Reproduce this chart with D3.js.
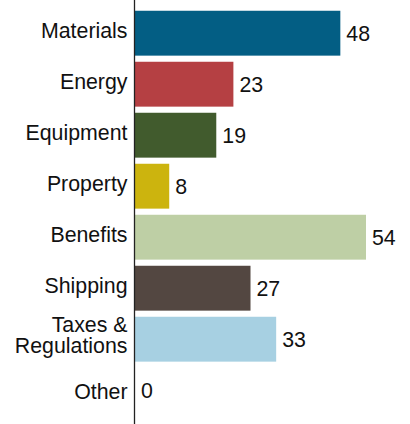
<!DOCTYPE html>
<html><head><meta charset="utf-8">
<script src="https://cdn.jsdelivr.net/npm/d3@7"></script>
<style>body{margin:0;background:#fff}svg{display:block}</style>
</head><body><svg id="c" width="410" height="424"></svg>
<script>
const categories = ["Materials","Energy","Equipment","Property","Benefits","Shipping","Taxes & Regulations","Other"];
const labelLines = [["Materials"],["Energy"],["Equipment"],["Property"],["Benefits"],["Shipping"],["Taxes &","Regulations"],["Other"]];
const values = [48,23,19,8,54,27,33,0];
const colors = ["#035e84","#b54043","#415b2d","#ccb40e","#becfa5","#534741","#a7d0e2","#999999"];

const svg = d3.select("#c");
const font = "Liberation Sans, Arial, sans-serif";
const y = d3.scaleBand().domain(categories).range([7.7, 415.7]).paddingInner(0.12).paddingOuter(0.06);
const x = d3.scaleLinear().domain([0, 54]).range([135, 366]);

svg.selectAll("rect.bar").data(categories).join("rect")
  .attr("x", x(0)).attr("y", d => y(d))
  .attr("width", (d,i) => x(values[i]) - x(0))
  .attr("height", y.bandwidth())
  .attr("fill", (d,i) => colors[i]);

svg.selectAll("text.val").data(categories).join("text")
  .attr("x", (d,i) => x(values[i]) + 6)
  .attr("y", d => y(d) + y.bandwidth()/2 + 7.8)
  .attr("font-family", font).attr("font-size", 21.33).attr("fill", "#111")
  .text((d,i) => values[i]);

const g = svg.selectAll("text.cat").data(categories).join("text")
  .attr("text-anchor", "end")
  .attr("font-family", font).attr("font-size", 21.33).attr("fill", "#111");
g.each(function(d,i){
  const lines = labelLines[i];
  // empty bars get their label aligned with the value label
  const off = values[i] === 0 ? 8.6 : (lines.length > 1 ? 3.4 : 4.5);
  const cy = y(d) + y.bandwidth()/2 + off;
  const t = d3.select(this);
  lines.forEach((ln,j) => {
    t.append("tspan").attr("x", 127.5)
     .attr("y", cy + (j - (lines.length-1)/2) * 21)
     .text(ln);
  });
});

svg.append("line").attr("x1",134.5).attr("x2",134.5).attr("y1",0).attr("y2",424)
  .attr("stroke","#222").attr("stroke-width",1.3);
</script></body></html>
